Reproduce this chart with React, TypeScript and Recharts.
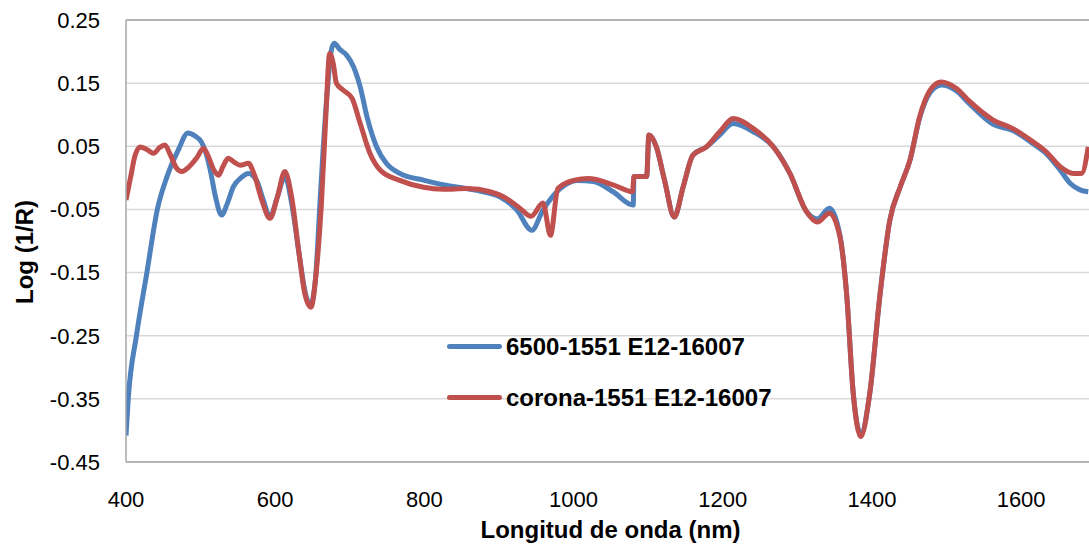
import React from "react";
import {
  LineChart,
  Line,
  XAxis,
  YAxis,
  CartesianGrid,
  Legend,
  ReferenceLine,
} from "recharts";

// wavelength (nm) and Log(1/R)
const blueNm = [
  400, 403, 414, 428, 442, 455, 470, 483, 493, 501, 507, 513, 520,
  528, 536, 544, 554, 564, 575, 584, 593, 603, 613, 622, 632, 640, 647, 654,
  660, 664, 670, 675, 679, 687, 696, 705, 714, 723, 736, 749, 767, 800, 821,
  866, 901, 924, 944, 959, 982, 1005, 1027, 1053, 1080, 1081, 1098, 1101, 1111,
  1122, 1135, 1147, 1160, 1178, 1196, 1214, 1241, 1268, 1290, 1312, 1327, 1343,
  1357, 1366, 1375, 1385, 1397, 1411, 1424, 1438, 1451, 1464, 1478, 1493, 1513,
  1531, 1562, 1589, 1616, 1634, 1652, 1666, 1679, 1690,
];
const blueLog = [
  -0.408, -0.35, -0.25, -0.15, -0.05, 0.002, 0.044, 0.071, 0.066,
  0.057, 0.04, 0.012, -0.03, -0.059, -0.04, -0.014, 0.0, 0.007, -0.004, -0.035,
  -0.062, -0.03, 0.002, -0.04, -0.12, -0.18, -0.202, -0.16, -0.04, 0.039, 0.14,
  0.2, 0.213, 0.203, 0.194, 0.176, 0.144, 0.097, 0.049, 0.023, 0.007, -0.004,
  -0.01, -0.019, -0.03, -0.051, -0.083, -0.051, -0.017, -0.004, -0.006, -0.022,
  -0.043, 0.002, 0.002, 0.068, 0.049, -0.004, -0.062, -0.014, 0.036, 0.049,
  0.068, 0.086, 0.073, 0.049, 0.007, -0.053, -0.065, -0.048, -0.09, -0.183,
  -0.342, -0.405, -0.342, -0.183, -0.067, -0.014, 0.028, 0.095, 0.135, 0.147,
  0.138, 0.117, 0.085, 0.075, 0.054, 0.038, 0.013, -0.009, -0.019, -0.022,
];

const redNm = [
  400, 406, 412, 419, 428, 437, 445, 452, 460, 468, 475, 485, 495, 504, 510,
  518, 524, 530, 537, 545, 553, 564, 572, 582, 593, 603, 613, 622, 632, 640,
  648, 655, 662, 668, 673, 678, 682, 691, 703, 714, 727, 741, 767, 799, 825,
  857, 888, 906, 928, 943, 959, 969, 979, 1000, 1020, 1053, 1079, 1081, 1098,
  1101, 1111, 1122, 1135, 1147, 1160, 1178, 1196, 1214, 1241, 1268, 1290, 1312,
  1327, 1343, 1357, 1366, 1375, 1385, 1397, 1411, 1424, 1438, 1451, 1464, 1478,
  1493, 1513, 1531, 1562, 1589, 1616, 1634, 1652, 1670, 1681, 1690,
];
const redLog = [
  -0.035, 0.0, 0.035, 0.049, 0.045, 0.039, 0.048, 0.052, 0.035, 0.015, 0.01,
  0.018, 0.032, 0.047, 0.035, 0.012, 0.004, 0.018, 0.031, 0.025, 0.02, 0.023,
  0.005, -0.035, -0.064, -0.03, 0.01, -0.03, -0.12, -0.185, -0.205, -0.15,
  -0.04, 0.1, 0.197, 0.18, 0.15, 0.139, 0.126, 0.086, 0.039, 0.012, -0.004,
  -0.015, -0.018, -0.017, -0.022, -0.03, -0.048, -0.061, -0.04, -0.091, -0.017,
  -0.004, -0.001, -0.011, -0.022, 0.002, 0.002, 0.068, 0.049, -0.004, -0.062,
  -0.014, 0.036, 0.049, 0.073, 0.094, 0.078, 0.049, 0.007, -0.053, -0.07,
  -0.056, -0.093, -0.183, -0.342, -0.41, -0.342, -0.183, -0.067, -0.014, 0.028,
  0.097, 0.139, 0.152, 0.142, 0.121, 0.092, 0.078, 0.057, 0.041, 0.018, 0.007,
  0.007, 0.049,
];

const xTicks = [400, 600, 800, 1000, 1200, 1400, 1600];
const yTicks = [-0.45, -0.35, -0.25, -0.15, -0.05, 0.05, 0.15, 0.25];

const toPoints = (xs: number[], ys: number[]) =>
  xs.map((nm, i) => ({ nm, v: ys[i] }));

const blueData = toPoints(blueNm, blueLog);
const redData = toPoints(redNm, redLog);

const tickStyle = { fontFamily: "Liberation Sans", fontSize: 22, fill: "#000" };
const titleStyle = {
  fontFamily: "Liberation Sans",
  fontSize: 24,
  fontWeight: "bold",
  fill: "#000",
};

function LegendBox({ payload }: any) {
  return (
    <div>
      {(payload || []).map((p: any) => (
        <div
          key={p.value}
          style={{ display: "flex", alignItems: "center", height: 51 }}
        >
          <div
            style={{
              width: 55,
              height: 5,
              borderRadius: 3,
              background: p.color,
              marginRight: 4,
            }}
          />
          <span
            style={{
              fontFamily: "Liberation Sans",
              fontSize: 24,
              fontWeight: "bold",
              color: "#000",
              whiteSpace: "nowrap",
            }}
          >
            {p.value}
          </span>
        </div>
      ))}
    </div>
  );
}

export default function App() {
  return (
    <div style={{ position: "absolute", left: 0, top: 0, background: "#fff" }}>
      <LineChart
        width={1089}
        height={546}
        margin={{ top: 20, right: 0, bottom: 0, left: 0 }}
      >
        <CartesianGrid vertical={false} stroke="#D9D9D9" strokeWidth={1.5} />
        <ReferenceLine y={0.25} stroke="#A6A6A6" strokeWidth={1.5} />
        <XAxis
          dataKey="nm"
          type="number"
          domain={[400, 1691]}
          ticks={xTicks}
          interval={0}
          allowDataOverflow
          height={84}
          tickLine={false}
          tickMargin={23}
          tick={tickStyle}
          stroke="#A6A6A6"
          strokeWidth={1.5}
          label={{
            value: "Longitud de onda (nm)",
            position: "insideBottom",
            offset: 8,
            dx: 3,
            style: titleStyle,
          }}
        />
        <YAxis
          type="number"
          domain={[-0.45, 0.25]}
          ticks={yTicks}
          interval={0}
          width={126}
          tickLine={false}
          tickMargin={20}
          tick={tickStyle}
          tickFormatter={(v: number) => v.toFixed(2)}
          stroke="#A6A6A6"
          strokeWidth={1.5}
          label={{
            value: "Log (1/R)",
            angle: -90,
            position: "center",
            dx: -39,
            dy: 11,
            style: titleStyle,
          }}
        />
        <Legend
          layout="vertical"
          align="center"
          verticalAlign="middle"
          content={<LegendBox />}
          wrapperStyle={{ left: 447, top: 321, width: "auto", height: "auto" }}
        />
        <Line
          data={blueData}
          dataKey="v"
          name="6500-1551 E12-16007"
          type="monotone"
          stroke="#4F81BD"
          strokeWidth={5}
          dot={false}
          isAnimationActive={false}
        />
        <Line
          data={redData}
          dataKey="v"
          name="corona-1551 E12-16007"
          type="monotone"
          stroke="#C0504D"
          strokeWidth={5}
          dot={false}
          isAnimationActive={false}
        />
      </LineChart>
    </div>
  );
}
